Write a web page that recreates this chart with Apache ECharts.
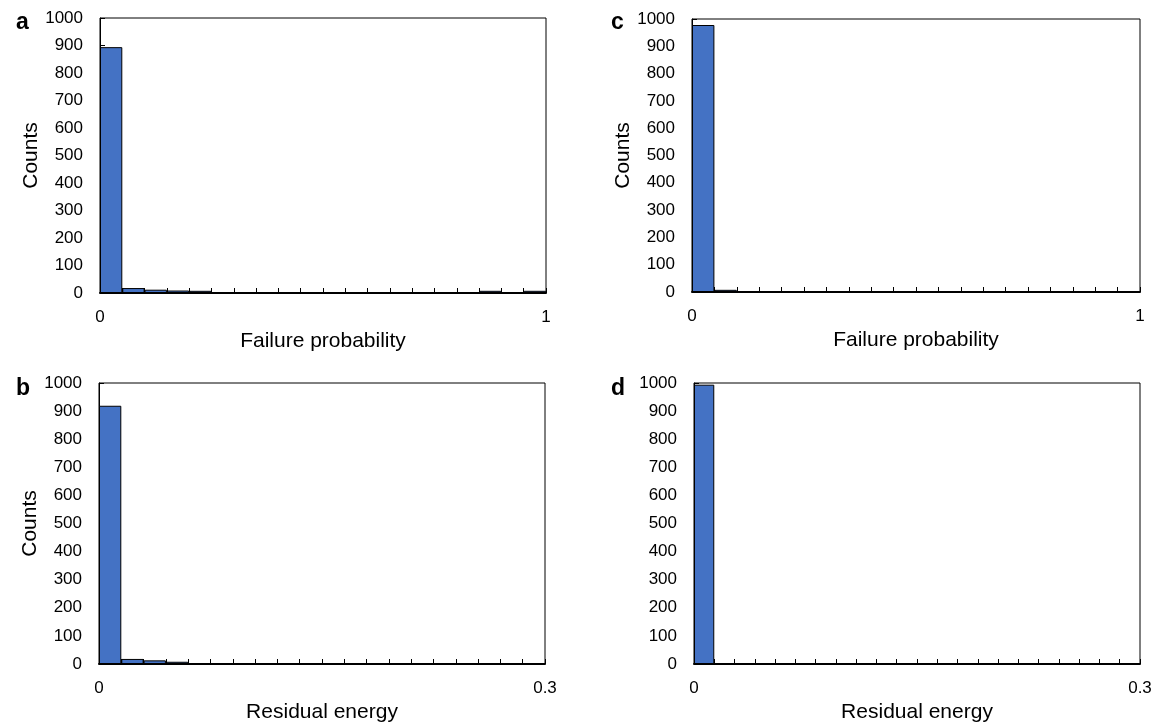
<!DOCTYPE html>
<html>
<head>
<meta charset="utf-8">
<title>Histograms of failure probability and residual energy</title>
<script src="https://cdn.jsdelivr.net/npm/echarts@6/dist/echarts.min.js"></script>
<style>
  html, body { margin: 0; padding: 0; background: #fff; }
  #chart { width: 1156px; height: 727px; }
</style>
</head>
<body>
<div id="chart"></div>
<script>
// Bin lower edges for each histogram
const binsA = ['0','0.05','0.1','0.15','0.2','0.25','0.3','0.35','0.4','0.45','0.5','0.55','0.6','0.65','0.7','0.75','0.8','0.85','0.9','0.95'];
const binsC = ['0','0.05','0.1','0.15','0.2','0.25','0.3','0.35','0.4','0.45','0.5','0.55','0.6','0.65','0.7','0.75','0.8','0.85','0.9','0.95'];
const binsB = ['0','0.015','0.03','0.045','0.06','0.075','0.09','0.105','0.12','0.135','0.15','0.165','0.18','0.195','0.21','0.225','0.24','0.255','0.27','0.285'];
const binsD = ['0','0.014','0.027','0.041','0.055','0.068','0.082','0.095','0.109','0.123','0.136','0.15','0.164','0.177','0.191','0.205','0.218','0.232','0.245','0.259','0.273','0.286'];

// Counts per bin
const countsA = [894, 18, 12, 9, 8, 3, 3, 3, 3, 3, 3, 3, 3, 3, 3, 3, 3, 8, 3, 8];
const countsB = [919, 18, 13, 8, 3, 3, 3, 3, 3, 3, 3, 3, 0, 3, 3, 3, 3, 0, 3, 3];
const countsC = [978, 8, 2, 2, 2, 2, 0, 2, 0, 0, 0, 2, 0, 0, 0, 0, 0, 2, 0, 0];
const countsD = [994, 2, 2, 0, 2, 0, 0, 0, 0, 0, 0, 0, 0, 0, 0, 0, 0, 0, 0, 0, 0, 0];

// Axis ticks and end labels
const countTicks = { min: 0, max: 1000, step: 100 };
const probRange = { min: 0, max: 1 };
const energyRange = { min: 0, max: 0.3 };

const panels = [
  { letter: 'a', bins: binsA, counts: countsA, range: probRange, xName: 'Failure probability', yName: 'Counts',
    grid: { left: 100, top: 18, width: 446, height: 275 }, letterPos: [11, 6] },
  { letter: 'c', bins: binsC, counts: countsC, range: probRange, xName: 'Failure probability', yName: 'Counts',
    grid: { left: 692, top: 19, width: 448, height: 273 }, letterPos: [606, 6] },
  { letter: 'b', bins: binsB, counts: countsB, range: energyRange, xName: 'Residual energy', yName: 'Counts',
    grid: { left: 99, top: 383, width: 446, height: 281 }, letterPos: [11, 372] },
  { letter: 'd', bins: binsD, counts: countsD, range: energyRange, xName: 'Residual energy', yName: '',
    grid: { left: 694, top: 383, width: 446, height: 281 }, letterPos: [606, 372] }
];

const FONT = '"Liberation Sans", Arial, Helvetica, sans-serif';
const BLUE = '#4472C4';
const plain = v => String(v);

const grids = [], xAxes = [], yAxes = [], series = [], titles = [];

panels.forEach((p, i) => {
  grids.push(Object.assign({ show: true, borderColor: '#000', borderWidth: 1, backgroundColor: '#fff' }, p.grid));

  // Category axis carrying the bins: bottom line + inward ticks at bin edges
  xAxes.push({
    type: 'category', gridIndex: i, data: p.bins, boundaryGap: true,
    axisLine: { show: true, lineStyle: { color: '#000', width: 2 } },
    axisTick: { show: true, inside: true, length: 5, interval: 0, lineStyle: { color: '#000', width: 1 } },
    axisLabel: { show: false }, splitLine: { show: false }, z: 5
  });
  // Value axis giving the end labels and the title
  xAxes.push({
    type: 'value', gridIndex: i, position: 'bottom', min: p.range.min, max: p.range.max,
    interval: p.range.max - p.range.min,
    axisLine: { show: false }, axisTick: { show: false }, splitLine: { show: false },
    axisLabel: { show: true, color: '#000', fontFamily: FONT, fontSize: 17, margin: 16, formatter: plain },
    name: p.xName, nameLocation: 'middle', nameGap: 38,
    nameTextStyle: { color: '#000', fontFamily: FONT, fontSize: 21 }
  });

  yAxes.push({
    type: 'value', gridIndex: i, min: countTicks.min, max: countTicks.max, interval: countTicks.step,
    axisLine: { show: true, lineStyle: { color: '#000', width: 1 } },
    axisTick: { show: true, inside: true, length: 5, lineStyle: { color: '#000' } },
    axisLabel: { color: '#000', fontFamily: FONT, fontSize: 17, margin: 17, formatter: plain },
    splitLine: { show: false },
    name: p.yName, nameLocation: 'middle', nameGap: 58, nameRotate: 90,
    nameTextStyle: { color: '#000', fontFamily: FONT, fontSize: 21 }
  });

  series.push({
    type: 'bar', xAxisIndex: i * 2, yAxisIndex: i, data: p.counts,
    barCategoryGap: '0%', barGap: '0%',
    itemStyle: { color: BLUE, borderColor: '#000', borderWidth: 1 },
    silent: true, animation: false
  });

  titles.push({
    text: p.letter, left: p.letterPos[0], top: p.letterPos[1],
    textStyle: { color: '#000', fontFamily: FONT, fontSize: 23, fontWeight: 'bold' }
  });
});

const chart = echarts.init(document.getElementById('chart'), null, { renderer: 'canvas' });
chart.setOption({
  backgroundColor: '#fff',
  animation: false,
  title: titles,
  grid: grids,
  xAxis: xAxes,
  yAxis: yAxes,
  series: series
});
</script>
</body>
</html>
